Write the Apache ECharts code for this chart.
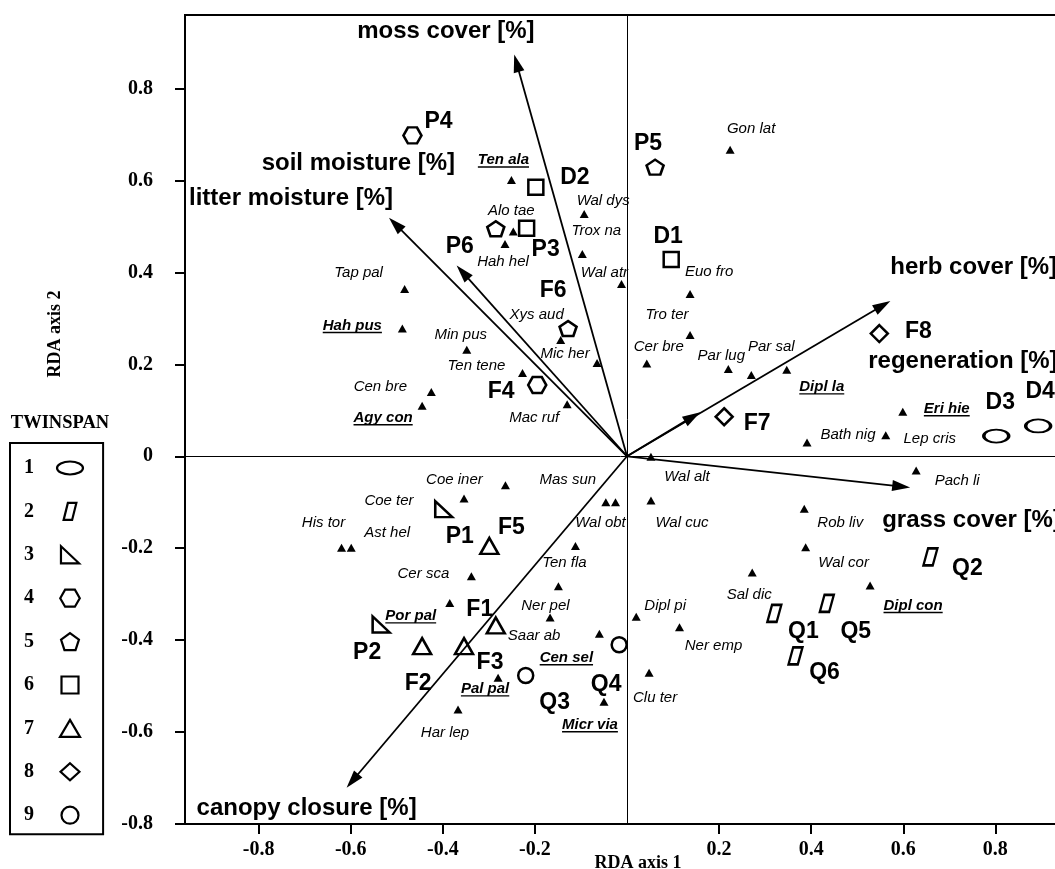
<!DOCTYPE html>
<html><head><meta charset="utf-8">
<script src="https://cdn.jsdelivr.net/npm/echarts@6/dist/echarts.min.js"></script>
<style>html,body{margin:0;padding:0;background:#fff}#c{width:1055px;height:869px}</style>
</head><body><div id="c"></div>
<script>
// ================= DATA =================
const xTickValues = [-0.8, -0.6, -0.4, -0.2, 0.2, 0.4, 0.6, 0.8];
const yTickValues = [-0.8, -0.6, -0.4, -0.2, 0, 0.2, 0.4, 0.6, 0.8];

const envNames = ['moss cover [%]', 'soil moisture [%]', 'litter moisture [%]', 'herb cover [%]', 'regeneration [%]', 'grass cover [%]', 'canopy closure [%]'];
const envX = [-0.245, -0.370, -0.517, 0.572, 0.159, 0.615, -0.609];
const envY = [0.874, 0.415, 0.519, 0.338, 0.096, -0.068, -0.721];

const groupNames = ['1', '2', '3', '4', '5', '6', '7', '8', '9'];
const sampleNames = ['D3', 'D4', 'Q1', 'Q2', 'Q5', 'Q6', 'P1', 'P2', 'P4', 'F4', 'P5', 'P6', 'F6', 'D1', 'D2', 'P3', 'F1', 'F2', 'F3', 'F5', 'F7', 'F8', 'Q3', 'Q4'];
const sampleGroup = ['1', '1', '2', '2', '2', '2', '3', '3', '4', '4', '5', '5', '5', '6', '6', '6', '7', '7', '7', '7', '8', '8', '9', '9'];
const sampleX = [0.802, 0.893, 0.320, 0.659, 0.434, 0.366, -0.398, -0.534, -0.466, -0.195, 0.061, -0.285, -0.128, 0.096, -0.198, -0.218, -0.285, -0.445, -0.354, -0.299, 0.211, 0.548, -0.220, -0.017];
const sampleY = [0.044, 0.066, -0.342, -0.219, -0.320, -0.434, -0.115, -0.366, 0.698, 0.155, 0.629, 0.495, 0.278, 0.428, 0.585, 0.496, -0.368, -0.413, -0.413, -0.195, 0.086, 0.267, -0.477, -0.410];

const speciesNames = ['Gon lat', 'Ten ala', 'Alo tae', 'Hah hel', 'Wal dys', 'Trox na', 'Wal atr', 'Euo fro', 'Tro ter', 'Cer bre', 'Par lug', 'Par sal', 'Dipl la', 'Eri hie', 'Bath nig', 'Lep cris', 'Pach li', 'Rob liv', 'Wal cor', 'Sal dic', 'Dipl con', 'Wal alt', 'Wal cuc', 'Mas sun', 'Wal obt', 'Coe iner', 'Coe ter', 'His tor', 'Ast hel', 'Cer sca', 'Por pal', 'Ten fla', 'Ner pel', 'Saar ab', 'Cen sel', 'Micr via', 'Pal pal', 'Har lep', 'Dipl pi', 'Ner emp', 'Clu ter', 'Tap pal', 'Hah pus', 'Min pus', 'Ten tene', 'Cen bre', 'Agy con', 'Xys aud', 'Mic her', 'Mac ruf'];
const speciesX = [0.224, -0.251, -0.247, -0.265, -0.093, -0.097, -0.012, 0.137, 0.137, 0.043, 0.220, 0.270, 0.347, 0.599, 0.391, 0.562, 0.628, 0.385, 0.388, 0.272, 0.528, 0.052, 0.052, -0.046, -0.025, -0.264, -0.354, -0.620, -0.599, -0.338, -0.385, -0.112, -0.149, -0.167, -0.060, -0.050, -0.280, -0.367, 0.020, 0.114, 0.048, -0.483, -0.488, -0.348, -0.227, -0.425, -0.445, -0.144, -0.065, -0.130];
const speciesY = [0.667, 0.601, 0.489, 0.462, 0.527, 0.440, 0.375, 0.353, 0.264, 0.202, 0.190, 0.177, 0.188, 0.097, 0.030, 0.046, -0.031, -0.114, -0.198, -0.253, -0.281, -0.001, -0.096, -0.100, -0.100, -0.063, -0.092, -0.199, -0.199, -0.261, -0.319, -0.195, -0.283, -0.351, -0.386, -0.534, -0.482, -0.551, -0.349, -0.372, -0.471, 0.364, 0.278, 0.232, 0.181, 0.140, 0.110, 0.253, 0.203, 0.113];
const underlinedSpecies = ['Ten ala', 'Dipl la', 'Eri hie', 'Dipl con', 'Por pal', 'Cen sel', 'Micr via', 'Pal pal', 'Hah pus', 'Agy con'];

// ================= LAYOUT / STYLE (label placement, symbols) =================
const envLabelOffset = [[-157, -23], [-195, -102], [-200, -19], [0, -34], [168, -51], [-28, 33], [-150, 21]];
const sampleLabelOffset = {
  D3: [4, -33], D4: [2, -34], Q1: [29, 18], Q2: [37, 12], Q5: [29, 28], Q6: [29, 17],
  P1: [16, 28], P2: [-14, 28], P4: [26, -14], F4: [-36, 7], P5: [-7, -23], P6: [-36, 18],
  F6: [-15, -38], D1: [-3, -23], D2: [39, -10], P3: [19, 21], F1: [-16, -16], F2: [-4, 38],
  F3: [26, 17], F5: [22, -18], F7: [33, 7], F8: [39, -2], Q3: [29, 27], Q4: [-13, 40]
};
const speciesLabelOffset = [[21, -21], [-8, -20], [-2, -21], [-2, 18], [19, -13], [14, -23], [-17, -11], [19, -22], [-23, -20], [12, -17], [-7, -13], [20, -28], [35, 17], [44, -3], [41, -8], [44, 4], [41, 10], [36, 14], [38, 16], [-3, 22], [43, 20], [36, 20], [31, 22], [-38, -22], [-15, 21], [-51, -5], [-75, 2], [-18, -25], [36, -15], [-48, -2], [-39, 13], [-11, 17], [-13, 19], [-16, 18], [-33, 24], [-14, 23], [-13, 11], [-13, 23], [29, -11], [34, 19], [6, 25], [-46, -16], [-50, -3], [-6, -15], [-46, -7], [-51, -5], [-39, 12], [-24, -25], [-32, -9], [-33, 13]];

const groupSymbol = {
  '1': 'path://M0,5 C0,2.24 4.48,0 10,0 C15.52,0 20,2.24 20,5 C20,7.76 15.52,10 10,10 C4.48,10 0,7.76 0,5 Z',
  '2': 'path://M4,0 L12,0 L8,16 L0,16 Z',
  '3': 'path://M0,0 L0,16 L17,16 Z',
  '4': 'path://M0,8 L4.6,0 L13.8,0 L18.4,8 L13.8,16 L4.6,16 Z',
  '5': 'path://M10,0 L19.51,6.91 L15.88,18.09 L4.12,18.09 L0.49,6.91 Z',
  '6': 'path://M0,0 L15,0 L15,15 L0,15 Z',
  '7': 'path://M10,0 L20,17 L0,17 Z',
  '8': 'path://M10,0 L20,9 L10,18 L0,9 Z',
  '9': 'circle'
};
const groupSymbolSize = {
  '1': [25, 13], '2': [14, 17], '3': [17, 16], '4': [18, 16], '5': [17, 15],
  '6': [15, 15], '7': [18, 16], '8': [17, 17], '9': [15, 15]
};

// ================= BUILD =================
const measureCtx = document.createElement('canvas').getContext('2d');
function textWidth(t, font) { measureCtx.font = font; return measureCtx.measureText(t).width; }
const fmtTick = v => (Math.abs(v) < 1e-9 ? '0' : v.toFixed(1));
const SANS = '"Liberation Sans", Arial, sans-serif';
const SERIF = '"Liberation Serif", "Times New Roman", serif';

const speciesData = speciesNames.map((n, i) => {
  const ul = underlinedSpecies.indexOf(n) >= 0;
  return {
    name: n, value: [speciesX[i], speciesY[i]],
    label: { offset: speciesLabelOffset[i], fontWeight: ul ? 'bold' : 'normal', color: '#000' }
  };
});
const underlineData = [];
speciesNames.forEach((n, i) => {
  if (underlinedSpecies.indexOf(n) < 0) return;
  const w = textWidth(n, 'italic bold 15px ' + SANS);
  const o = speciesLabelOffset[i];
  underlineData.push({ value: [speciesX[i], speciesY[i]], symbolOffset: [o[0], o[1] + 7], symbolSize: [w, 1.4] });
});

const groupSeries = groupNames.map(g => ({
  type: 'scatter', name: g, z: 4,
  symbol: groupSymbol[g], symbolSize: groupSymbolSize[g],
  itemStyle: { color: 'rgba(255,255,255,0)', borderColor: '#000', borderWidth: 2.5, opacity: 1 },
  label: { show: true, position: 'inside', formatter: '{b}', color: '#000', opacity: 1, textBorderWidth: 0,
           fontFamily: SANS, fontWeight: 'bold', fontSize: 23 },
  emphasis: { disabled: true }, silent: true,
  data: sampleNames.map((s, i) => ({ s, i })).filter(o => sampleGroup[o.i] === g).map(o => ({
    name: o.s, value: [sampleX[o.i], sampleY[o.i]], label: { offset: sampleLabelOffset[o.s], color: '#000' }
  }))
}));

const option = {
  animation: false,
  backgroundColor: '#fff',
  grid: { left: 185, top: 15, right: -14, bottom: 45, show: true, borderColor: '#000', borderWidth: 2,
          containLabel: false, outerBoundsMode: 'none' },
  xAxis: {
    type: 'value', min: -0.96, max: 0.96, position: 'bottom',
    axisLine: { show: true, onZero: false, lineStyle: { color: '#000', width: 2 } },
    axisTick: { show: true, inside: false, length: 10, customValues: xTickValues, lineStyle: { color: '#000', width: 2 } },
    axisLabel: { show: true, customValues: xTickValues, margin: 16, formatter: fmtTick, color: '#000',
                 fontFamily: SERIF, fontWeight: 'bold', fontSize: 20 },
    splitLine: { show: false },
    name: 'RDA axis 1', nameLocation: 'middle', nameGap: 30, nameMoveOverlap: false,
    nameTextStyle: { color: '#000', fontFamily: SERIF, fontWeight: 'bold', fontSize: 18, padding: [0, 0, 0, 22], verticalAlign: 'top' }
  },
  yAxis: {
    type: 'value', min: -0.8, max: 0.96, interval: 0.2,
    axisLine: { show: true, onZero: false, lineStyle: { color: '#000', width: 2 } },
    axisTick: { show: true, inside: false, length: 10, customValues: yTickValues, lineStyle: { color: '#000', width: 2 } },
    axisLabel: { show: true, customValues: yTickValues, margin: 32, formatter: fmtTick, color: '#000',
                 fontFamily: SERIF, fontWeight: 'bold', fontSize: 20 },
    splitLine: { show: false }
  },
  legend: {
    data: groupNames, orient: 'vertical', left: 10, top: 443, align: 'right',
    itemWidth: 26, itemHeight: 17, itemGap: 23.4, padding: [15, 19, 9, 14],
    borderColor: '#000', borderWidth: 2, selectedMode: false,
    itemStyle: { color: 'rgba(255,255,255,0)', borderColor: '#000', borderWidth: 2.2, opacity: 1 },
    formatter: n => '{n|' + n + '}',
    textStyle: { color: '#000', fontFamily: SERIF, fontWeight: 'bold', fontSize: 20,
                 rich: { n: { color: '#000', fontFamily: SERIF, fontWeight: 'bold', fontSize: 20, padding: [0, 18, 0, 0] } } }
  },
  graphic: [
    { type: 'text', x: 60, y: 423, style: { text: 'TWINSPAN', fill: '#000', font: 'bold 18.5px ' + SERIF, align: 'center', verticalAlign: 'middle' } },
    { type: 'text', x: 55, y: 334, rotation: Math.PI / 2, style: { text: 'RDA axis 2', fill: '#000', font: 'bold 18px ' + SERIF, align: 'center', verticalAlign: 'middle' } }
  ],
  series: [
    {
      type: 'scatter', name: 'species', z: 3, silent: true,
      symbol: 'triangle', symbolSize: [9, 8], itemStyle: { color: '#000', opacity: 1 },
      label: { show: true, position: 'inside', formatter: '{b}', color: '#000', opacity: 1, textBorderWidth: 0,
               fontFamily: SANS, fontStyle: 'italic', fontSize: 15 },
      emphasis: { disabled: true },
      markLine: {
        silent: true, symbol: ['none', 'none'], label: { show: false }, z: 1,
        lineStyle: { color: '#000', width: 1, type: 'solid', opacity: 1 },
        emphasis: { disabled: true },
        data: [{ xAxis: 0 }, { yAxis: 0 }]
      },
      data: speciesData
    },
    {
      type: 'scatter', name: 'underline', z: 3, silent: true,
      symbol: 'rect', itemStyle: { color: '#000', opacity: 1 }, emphasis: { disabled: true },
      data: underlineData
    },
    {
      type: 'custom', name: 'environment', z: 2, silent: true,
      data: envNames.map((n, i) => [envX[i], envY[i]]),
      renderItem: function (params, api) {
        const p0 = api.coord([0, 0]);
        const p1 = api.coord([api.value(0), api.value(1)]);
        const dx = p1[0] - p0[0], dy = p1[1] - p0[1];
        const len = Math.sqrt(dx * dx + dy * dy);
        const ux = dx / len, uy = dy / len;
        const L = 18, W = 5.5;
        const bx = p1[0] - ux * L, by = p1[1] - uy * L;
        const off = envLabelOffset[params.dataIndex];
        return {
          type: 'group', children: [
            { type: 'line', shape: { x1: p0[0], y1: p0[1], x2: bx + ux * 3, y2: by + uy * 3 }, style: { stroke: '#000', lineWidth: 1.8 } },
            { type: 'polygon', shape: { points: [[p1[0], p1[1]], [bx - uy * W, by + ux * W], [bx + uy * W, by - ux * W]] }, style: { fill: '#000' } },
            { type: 'text', x: p1[0] + off[0], y: p1[1] + off[1],
              style: { text: envNames[params.dataIndex], fill: '#000', font: 'bold 24px ' + SANS, align: 'left', verticalAlign: 'middle' } }
          ]
        };
      }
    }
  ].concat(groupSeries)
};

const chart = echarts.init(document.getElementById('c'), null, { renderer: 'canvas', width: 1055, height: 869 });
chart.setOption(option);
</script>
</body></html>
